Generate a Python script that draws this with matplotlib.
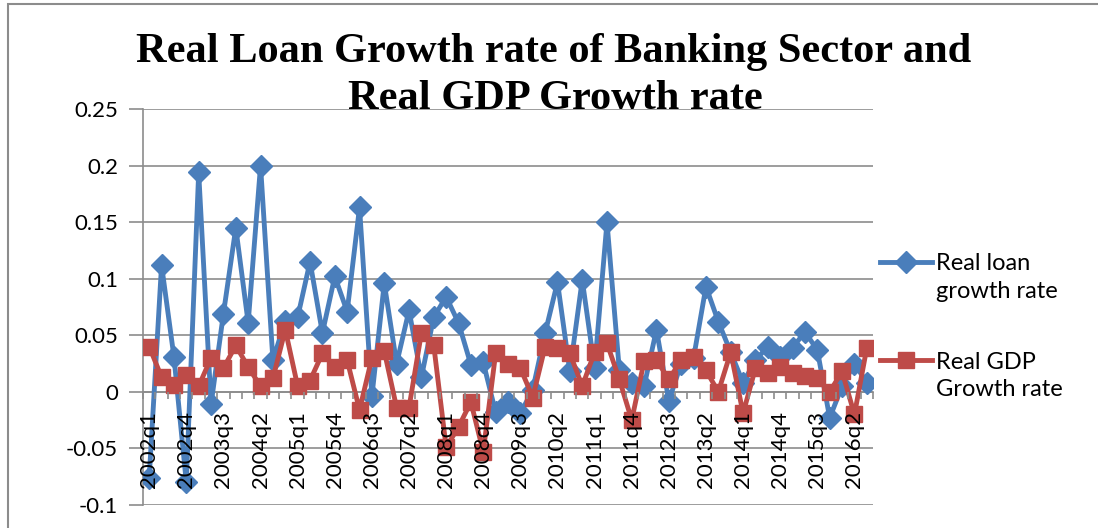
import numpy as np
import matplotlib
matplotlib.use('Agg')
import matplotlib.pyplot as plt
import matplotlib.transforms as mtransforms
from matplotlib.patches import Rectangle
from matplotlib.ticker import FixedLocator, NullFormatter
from matplotlib.legend_handler import HandlerLine2D

# quarters 2002q1 .. 2016q3
quarters = ['%dq%d' % (y, q) for y in range(2002, 2017) for q in range(1, 5)][:59]

loan_growth = [
    -0.076, 0.112, 0.031, -0.080, 0.194, -0.011, 0.069, 0.145, 0.061, 0.200,
    0.028, 0.063, 0.066, 0.115, 0.052, 0.102, 0.071, 0.163, -0.004, 0.096,
    0.025, 0.072, 0.013, 0.066, 0.084, 0.061, 0.024, 0.026, -0.018, -0.009,
    -0.019, 0.002, 0.052, 0.097, 0.018, 0.099, 0.021, 0.150, 0.019, 0.008,
    0.005, 0.055, -0.008, 0.025, 0.030, 0.093, 0.062, 0.035, 0.008, 0.028,
    0.040, 0.031, 0.039, 0.053, 0.037, -0.023, 0.005, 0.025, 0.008,
]

gdp_growth = [
    0.040, 0.013, 0.006, 0.015, 0.005, 0.030, 0.021, 0.041, 0.022, 0.005,
    0.012, 0.055, 0.005, 0.010, 0.034, 0.022, 0.028, -0.016, 0.030, 0.036,
    -0.014, -0.014, 0.052, 0.041, -0.049, -0.031, -0.009, -0.053, 0.034, 0.025,
    0.021, -0.005, 0.040, 0.039, 0.034, 0.005, 0.035, 0.043, 0.011, -0.025,
    0.027, 0.028, 0.011, 0.028, 0.031, 0.019, 0.000, 0.035, -0.019, 0.021,
    0.017, 0.022, 0.017, 0.014, 0.012, 0.000, 0.018, -0.020, 0.039,
]

y_ticks = [-0.1, -0.05, 0, 0.05, 0.1, 0.15, 0.2, 0.25]
y_labels = ['-0.1', '-0.05', '0', '0.05', '0.1', '0.15', '0.2', '0.25']


class HandlerFirstLine(HandlerLine2D):
    # put the legend line level with the first line of a two-line label
    def create_artists(self, legend, orig_handle, xdescent, ydescent, width,
                       height, fontsize, trans):
        arts = super().create_artists(legend, orig_handle, xdescent, ydescent,
                                      width, height, fontsize, trans)
        shift = mtransforms.Affine2D().translate(0, 16)
        for a in arts:
            a.set_transform(a.get_transform() + shift)
        return arts


plt.rcParams['font.family'] = ['Lato', 'DejaVu Sans']

fig = plt.figure(figsize=(10.98, 5.28), dpi=100)
ax = fig.add_axes([143 / 1098, 1 - 505 / 528, 730 / 1098, 396 / 528])

x = np.arange(len(quarters))
ax.plot(x, loan_growth, color='#4A7EBB', lw=3.5, marker='D', ms=11,
        label='Real loan\ngrowth rate', zorder=3)
ax.plot(x, gdp_growth, color='#BE4B48', lw=3.5, marker='s', ms=11,
        label='Real GDP\nGrowth rate', zorder=4)

ax.set_xlim(-0.5, len(quarters) - 0.5)
ax.set_ylim(-0.1, 0.25)

ax.set_yticks(y_ticks)
ax.set_yticklabels(y_labels)
ax.yaxis.grid(True, color='#8c8c8c', lw=1.2)
ax.set_axisbelow(True)
ax.tick_params(axis='y', length=10, width=1.2, color='#8c8c8c', pad=8, labelsize=16)

ax.set_xticks(x[::3])
ax.set_xticklabels(quarters[::3])
ax.xaxis.set_minor_locator(FixedLocator(np.arange(-0.5, len(quarters), 1)))
ax.xaxis.set_minor_formatter(NullFormatter())
ax.tick_params(axis='x', which='major', length=0, pad=14, labelsize=16,
               labelrotation=90)
ax.tick_params(axis='x', which='minor', length=5, width=1.2, color='#8c8c8c')
ax.xaxis.set_zorder(10)  # category labels sit on top of the lines

ax.spines['bottom'].set_position(('data', 0))
for s in ['top', 'right']:
    ax.spines[s].set_visible(False)
for s in ['left', 'bottom']:
    ax.spines[s].set_color('#8c8c8c')
    ax.spines[s].set_linewidth(1.2)

fig.text(0.504, 1 - 52 / 528, 'Real Loan Growth rate of Banking Sector and',
         ha='center', va='center', family='Liberation Serif', weight='bold',
         fontsize=30.5)
fig.text(0.506, 1 - 99 / 528, 'Real GDP Growth rate',
         ha='center', va='center', family='Liberation Serif', weight='bold',
         fontsize=30.5)

leg = ax.legend(loc='center left', bbox_to_anchor=(0.994, 0.45), frameon=False,
                fontsize=17, handlelength=2.2, labelspacing=2.1,
                handletextpad=0.15, borderaxespad=0.1,
                handler_map={plt.Line2D: HandlerFirstLine()})
for t in leg.get_texts():
    t.set_linespacing(1.4)

fig.patches.append(Rectangle((8 / 1098, -0.1), 1.2, 1 - 4 / 528 + 0.1,
                             transform=fig.transFigure, fill=False,
                             edgecolor='#8c8c8c', lw=1.5))

fig.savefig('out.png', dpi=100)
